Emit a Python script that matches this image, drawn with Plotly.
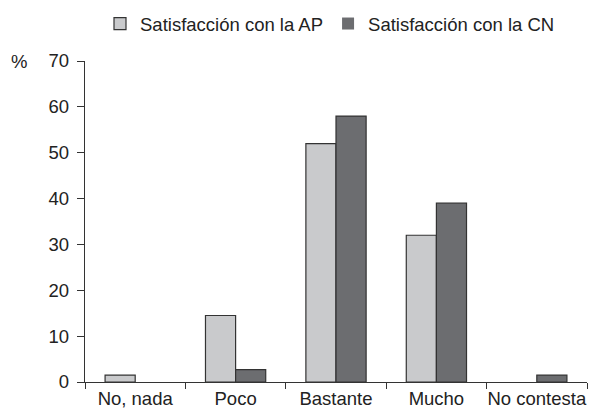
import plotly.graph_objects as go

# Survey responses (%)
categories = ["No, nada", "Poco", "Bastante", "Mucho", "No contesta"]
satisf_ap = [1.5, 14.5, 52, 32, 0]
satisf_cn = [0, 2.7, 58, 39, 1.5]
series_names = ["Satisfacción con la AP", "Satisfacción con la CN"]
y_ticks = [0, 10, 20, 30, 40, 50, 60, 70]

FONT = "Liberation Sans, Arial, sans-serif"
FS = 18.5
TEXT = "#222222"
EDGE = "#333333"


def outline_widths(values):
    # no outline on empty bars so nothing sits on top of the axis line
    return [0 if v == 0 else 1.2 for v in values]


fig = go.Figure()
fig.add_trace(go.Bar(
    x=categories, y=satisf_ap, name=series_names[0],
    marker=dict(color="#c9cacc",
                line=dict(color=EDGE, width=outline_widths(satisf_ap))),
))
fig.add_trace(go.Bar(
    x=categories, y=satisf_cn, name=series_names[1],
    marker=dict(color="#6c6d70",
                line=dict(color=EDGE, width=outline_widths(satisf_cn))),
))

fig.update_layout(
    width=592, height=410,
    margin=dict(l=84.5, r=5, t=60.5, b=27.7, pad=0),
    paper_bgcolor="white", plot_bgcolor="white",
    barmode="group", bargap=0.4, bargroupgap=0,
    font=dict(family=FONT, size=FS, color=TEXT),
    showlegend=True,
    legend=dict(
        orientation="h", xref="container", yref="container",
        x=100 / 592, xanchor="left", y=1 - 24 / 410, yanchor="middle",
        font=dict(family=FONT, size=FS, color=TEXT),
        bgcolor="rgba(0,0,0,0)", itemclick=False,
    ),
    xaxis=dict(
        showline=True, linecolor=EDGE, linewidth=1.3,
        ticks="outside", tickson="boundaries", ticklen=6, tickwidth=1.3,
        tickcolor=EDGE, showgrid=False, zeroline=False,
        tickangle=0, automargin=False,
        tickfont=dict(family=FONT, size=FS, color=TEXT),
    ),
    yaxis=dict(
        range=[0, 70], tickvals=y_ticks,
        showline=True, linecolor=EDGE, linewidth=1.3,
        ticks="outside", ticklen=7, tickwidth=1.3, tickcolor=EDGE,
        showgrid=False, zeroline=False, ticklabelstandoff=4,
        automargin=False,
        tickfont=dict(family=FONT, size=FS, color=TEXT),
    ),
    annotations=[dict(
        text="%", xref="paper", yref="paper", x=-0.132, y=1.0,
        xanchor="center", yanchor="middle", showarrow=False,
        font=dict(family=FONT, size=FS, color=TEXT),
    )],
)

fig.write_html("out.html")
